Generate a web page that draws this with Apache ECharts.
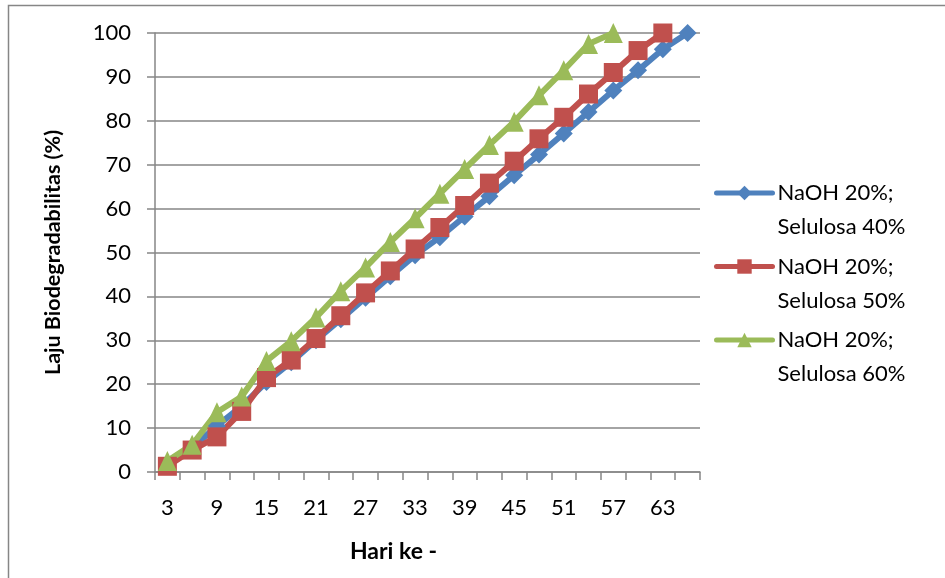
<!DOCTYPE html>
<html>
<head>
<meta charset="utf-8">
<script src="https://cdn.jsdelivr.net/npm/echarts@6/dist/echarts.min.js"></script>
<style>
  html, body { margin: 0; padding: 0; background: #fff; }
  #chart { width: 945px; height: 578px; }
</style>
</head>
<body>
<div id="chart"></div>
<script>
// Day of measurement (every 3 days)
const days = ['3','6','9','12','15','18','21','24','27','30','33','36','39','42','45','48','51','54','57','60','63','66'];

// Biodegradation rate (%) per formulation
const selulosa40 = [1.5, 5.5, 10.5, 15, 20.5, 25, 30, 34.8, 39.7, 44.6, 49.4, 53.5, 58.2, 62.8, 67.6, 72.3, 77.1, 82, 86.9, 91.5, 96.3, 100];
const selulosa50 = [1.3, 5, 8, 13.8, 21.5, 25.5, 30.4, 35.6, 40.8, 45.8, 50.8, 55.7, 60.7, 65.8, 70.8, 75.9, 80.8, 86.1, 91, 96, 100];
const selulosa60 = [2.5, 6.2, 13.6, 17.2, 25.3, 29.8, 35.2, 41.2, 46.6, 52.4, 57.8, 63.4, 69, 74.5, 79.8, 85.8, 91.5, 97.5, 100];

const seriesNames = ['NaOH 20%;\nSelulosa 40%', 'NaOH 20%;\nSelulosa 50%', 'NaOH 20%;\nSelulosa 60%'];
const colors = ['#4F81BD', '#C0504D', '#9BBB59'];

const FONT = 'Lato, "Open Sans", sans-serif';
const GRAY = '#868686';

const chart = echarts.init(document.getElementById('chart'), null, { renderer: 'canvas' });

function lineSeries(name, data, color, symbol, size) {
  return {
    name: name,
    type: 'line',
    data: data,
    symbol: symbol,
    symbolSize: size,
    showSymbol: true,
    showAllSymbol: true,
    lineStyle: { color: color, width: 6, join: 'round', cap: 'round' },
    itemStyle: { color: color },
    emphasis: { disabled: true },
    animation: false
  };
}

chart.setOption({
  backgroundColor: '#fff',
  animation: false,
  color: colors,
  graphic: [{
    type: 'rect',
    shape: { x: 8.5, y: 5.5, width: 950, height: 600 },
    style: { fill: 'none', stroke: GRAY, lineWidth: 1.5 },
    silent: true
  }],
  grid: { left: 155, right: 245, top: 33, bottom: 106, containLabel: false },
  legend: {
    orient: 'vertical',
    left: 714,
    top: 142,
    padding: 0,
    itemWidth: 56,
    itemHeight: 18,
    itemGap: -28.5,
    lineStyle: { width: 5, cap: 'round' },
    // leading blank line keeps the marker level with the first text line
    formatter: function (name) { return '\n' + name; },
    textStyle: {
      fontFamily: FONT,
      fontSize: 22,
      color: '#000',
      lineHeight: 34
    },
    data: seriesNames
  },
  xAxis: {
    type: 'category',
    data: days,
    boundaryGap: true,
    name: 'Hari ke -',
    nameLocation: 'middle',
    nameGap: 68,
    nameTextStyle: {
      fontFamily: FONT, fontSize: 23, fontWeight: 'bold', color: '#000',
      padding: [0, 68, 0, 0]
    },
    axisLine: { lineStyle: { color: GRAY, width: 1.5 } },
    axisTick: { show: true, interval: 0, length: 8, lineStyle: { color: GRAY, width: 1.5 } },
    axisLabel: { interval: 1, fontFamily: FONT, fontSize: 22, color: '#000', margin: 25 },
    splitLine: { show: false }
  },
  yAxis: {
    type: 'value',
    min: 0,
    max: 100,
    interval: 10,
    name: 'Laju Biodegradabilitas (%)',
    nameLocation: 'middle',
    nameGap: 91,
    nameTextStyle: { fontFamily: FONT, fontSize: 21.5, fontWeight: 'bold', color: '#000' },
    axisLine: { show: true, lineStyle: { color: GRAY, width: 1.5 } },
    axisTick: { show: true, length: 8, lineStyle: { color: GRAY, width: 1.5 } },
    axisLabel: { fontFamily: FONT, fontSize: 22, color: '#000', margin: 24 },
    splitLine: { show: true, lineStyle: { color: GRAY, width: 1.5 } }
  },
  series: [
    lineSeries(seriesNames[0], selulosa40, colors[0], 'diamond', 18),
    lineSeries(seriesNames[1], selulosa50, colors[1], 'rect', 19),
    lineSeries(seriesNames[2], selulosa60, colors[2], 'triangle', [19, 20])
  ]
});
</script>
</body>
</html>
